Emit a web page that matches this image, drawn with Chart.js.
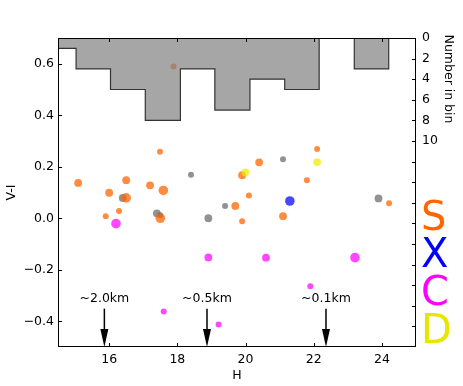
<!DOCTYPE html>
<html>
<head>
  <meta charset="UTF-8" />
  <title>V-I vs H</title>
  <script src="https://cdn.jsdelivr.net/npm/chart.js"></script>
  <style>
    body { margin: 0; background: white; }
    #wrap { width: 463px; height: 386px; position: relative; }
  </style>
</head>
<body>
  <div id="wrap"><canvas id="c"></canvas></div>
  <script>
    // S-type
    const sH  = [17.89, 17.49, 15.09, 16.50, 17.20, 17.59, 16.00, 16.50, 15.90, 16.29, 17.50, 19.70, 19.90, 19.90, 20.40, 22.10, 21.80, 20.10, 24.21, 21.10];
    const sVI = [0.589, 0.258, 0.137, 0.148, 0.128, 0.108, 0.099, 0.079, 0.008, 0.028, 0.000, 0.048, -0.012, 0.167, 0.217, 0.269, 0.148, 0.088, 0.058, 0.008];
    const sSz = [1, 1, 2, 2, 2, 3, 2, 3, 1, 1, 3, 2, 1, 2, 2, 1, 1, 1, 1, 2];
    // unclassified
    const uH  = [18.40, 16.40, 17.40, 17.50, 18.91, 19.40, 21.10, 23.90];
    const uVI = [0.169, 0.079, 0.019, 0.012, 0.000, 0.048, 0.229, 0.077];
    const uSz = [1, 2, 2, 1, 2, 1, 1, 2];
    // X-type
    const xH  = [21.30];
    const xVI = [0.067];
    const xSz = [3];
    // C-type
    const cH  = [16.20, 18.91, 17.60, 19.21, 20.60, 23.21, 21.90];
    const cVI = [-0.021, -0.152, -0.362, -0.413, -0.153, -0.153, -0.264];
    const cSz = [3, 2, 1, 1, 2, 3, 1];
    // D-type
    const dH  = [20.00, 22.10];
    const dVI = [0.178, 0.218];
    const dSz = [2, 2];

    // histogram of H (counts per bin)
    const binEdges = [14.0, 15.03, 16.04, 17.06, 18.09, 19.10, 20.13, 21.15, 22.16, 23.19, 24.20];
    const binCounts = [1, 3, 5, 8, 3, 7, 4, 5, 0, 3];

    const xTicks = [16, 18, 20, 22, 24];
    const yTicks = [-0.4, -0.2, 0.0, 0.2, 0.4, 0.6];
    const nTicks = [0, 2, 4, 6, 8, 10, 12, 14, 16, 18, 20, 22, 24, 26, 28];
    const nLabelMax = 10;

    const arrowH = [15.86, 18.87, 22.36];
    const arrowText = ['~2.0km', '~0.5km', '~0.1km'];

    const classes = ['S', 'X', 'C', 'D'];
    const classColors = ['#ff6600', '#0000ff', '#ff00ff', '#e6e600'];

    const FONT = 'DejaVu Sans';
    const radius = { 1: 3, 2: 3.9, 3: 4.8 };

    function pts(h, v) { return h.map((x, i) => ({ x: x, y: v[i] })); }
    function scatterSet(h, v, sz, color, order) {
      return {
        type: 'scatter',
        data: pts(h, v),
        backgroundColor: color,
        borderWidth: 0,
        pointRadius: sz.map(s => radius[s]),
        order: order
      };
    }

    const histPts = binEdges.map((e, i) => ({ x: e, y: i < binCounts.length ? binCounts[i] : 0 }));

    const minus = v => String(v).replace('-', '\u2212');

    const decorations = {
      id: 'decorations',
      afterDraw(chart) {
        const ctx = chart.ctx;
        const a = chart.chartArea;
        const sx = chart.scales.x, sy = chart.scales.y, sn = chart.scales.y2;
        ctx.save();
        ctx.strokeStyle = '#000';
        ctx.lineWidth = 1;
        ctx.strokeRect(a.left + 0.5, a.top + 0.5, a.right - a.left - 1, a.bottom - a.top - 1);
        ctx.beginPath();
        xTicks.forEach(t => {
          const px = Math.round(sx.getPixelForValue(t)) + 0.5;
          ctx.moveTo(px, a.bottom); ctx.lineTo(px, a.bottom - 4);
          ctx.moveTo(px, a.top); ctx.lineTo(px, a.top + 4);
        });
        yTicks.forEach(t => {
          const py = Math.round(sy.getPixelForValue(t)) + 0.5;
          ctx.moveTo(a.left, py); ctx.lineTo(a.left + 4, py);
        });
        nTicks.forEach(t => {
          const py = Math.round(sn.getPixelForValue(t)) + 0.5;
          ctx.moveTo(a.right, py); ctx.lineTo(a.right - 4, py);
        });
        ctx.stroke();

        // size arrows
        ctx.fillStyle = '#000';
        ctx.font = '12.5px ' + FONT;
        ctx.textAlign = 'center';
        ctx.textBaseline = 'alphabetic';
        arrowH.forEach((h, i) => {
          const px = sx.getPixelForValue(h);
          const top = sy.getPixelForValue(-0.351);
          const bot = sy.getPixelForValue(-0.5);
          ctx.fillText(arrowText[i], px, sy.getPixelForValue(-0.326));
          ctx.beginPath();
          ctx.lineWidth = 1.5;
          ctx.moveTo(px, top); ctx.lineTo(px, bot - 16);
          ctx.stroke();
          ctx.beginPath();
          ctx.moveTo(px - 4, bot - 18);
          ctx.lineTo(px + 4, bot - 18);
          ctx.lineTo(px, bot);
          ctx.closePath();
          ctx.fill();
        });

        // axis titles
        ctx.font = '12.5px ' + FONT;
        ctx.fillText('H', (a.left + a.right) / 2, 379);
        ctx.save();
        ctx.translate(15, (a.top + a.bottom) / 2);
        ctx.rotate(-Math.PI / 2);
        ctx.fillText('V-I', 0, 0);
        ctx.restore();
        ctx.save();
        ctx.translate(445, 79);
        ctx.rotate(Math.PI / 2);
        ctx.fillText('Number in bin', 0, 0);
        ctx.restore();

        // class letters
        ctx.font = '40px ' + FONT;
        ctx.textAlign = 'left';
        const base = [230, 267, 305, 343];
        classes.forEach((c, i) => {
          ctx.fillStyle = classColors[i];
          ctx.fillText(c, 421, base[i]);
        });
        ctx.restore();
      }
    };

    new Chart(document.getElementById('c'), {
      type: 'scatter',
      data: {
        datasets: [
          scatterSet(uH, uVI, uSz, 'rgba(100,100,100,0.7)', 6),
          scatterSet(sH, sVI, sSz, 'rgba(255,102,0,0.75)', 5),
          scatterSet(xH, xVI, xSz, 'rgba(0,0,255,0.72)', 4),
          scatterSet(cH, cVI, cSz, 'rgba(255,0,255,0.72)', 3),
          scatterSet(dH, dVI, dSz, 'rgba(235,235,0,0.72)', 2),
          {
            type: 'line',
            data: histPts,
            yAxisID: 'y2',
            stepped: true,
            borderColor: '#333333',
            borderWidth: 1.2,
            backgroundColor: 'rgba(128,128,128,0.7)',
            fill: { value: 0 },
            pointRadius: 0,
            order: 0
          }
        ]
      },
      options: {
        responsive: true,
        maintainAspectRatio: false,
        animation: false,
        layout: { padding: { top: 38, left: 0, right: 0, bottom: 0 } },
        plugins: { legend: { display: false }, tooltip: { enabled: false } },
        scales: {
          x: {
            type: 'linear', min: 14.5, max: 25, position: 'bottom',
            afterBuildTicks: s => { s.ticks = xTicks.map(v => ({ value: v })); },
            afterFit: s => { s.height = 39; },
            grid: { drawOnChartArea: false, drawTicks: false },
            border: { display: false },
            ticks: { color: '#000', font: { family: FONT, size: 12.5 }, padding: 5, maxRotation: 0,
                     callback: v => String(v) }
          },
          y: {
            type: 'linear', min: -0.5, max: 0.7, position: 'left',
            afterBuildTicks: s => { s.ticks = yTicks.map(v => ({ value: v })); },
            afterFit: s => { s.width = 58; },
            grid: { drawOnChartArea: false, drawTicks: false },
            border: { display: false },
            ticks: { color: '#000', font: { family: FONT, size: 12.5 }, padding: 4,
                     callback: v => minus(v.toFixed(1)) }
          },
          y2: {
            type: 'linear', min: 0, max: 30, reverse: true, position: 'right',
            afterBuildTicks: s => { s.ticks = nTicks.map(v => ({ value: v })); },
            afterFit: s => { s.width = 47; },
            grid: { drawOnChartArea: false, drawTicks: false },
            border: { display: false },
            ticks: { color: '#000', font: { family: FONT, size: 12.5 }, padding: 6, autoSkip: false,
                     callback: v => (v <= nLabelMax ? String(v) : '') }
          }
        }
      },
      plugins: [decorations]
    });
  </script>
</body>
</html>
